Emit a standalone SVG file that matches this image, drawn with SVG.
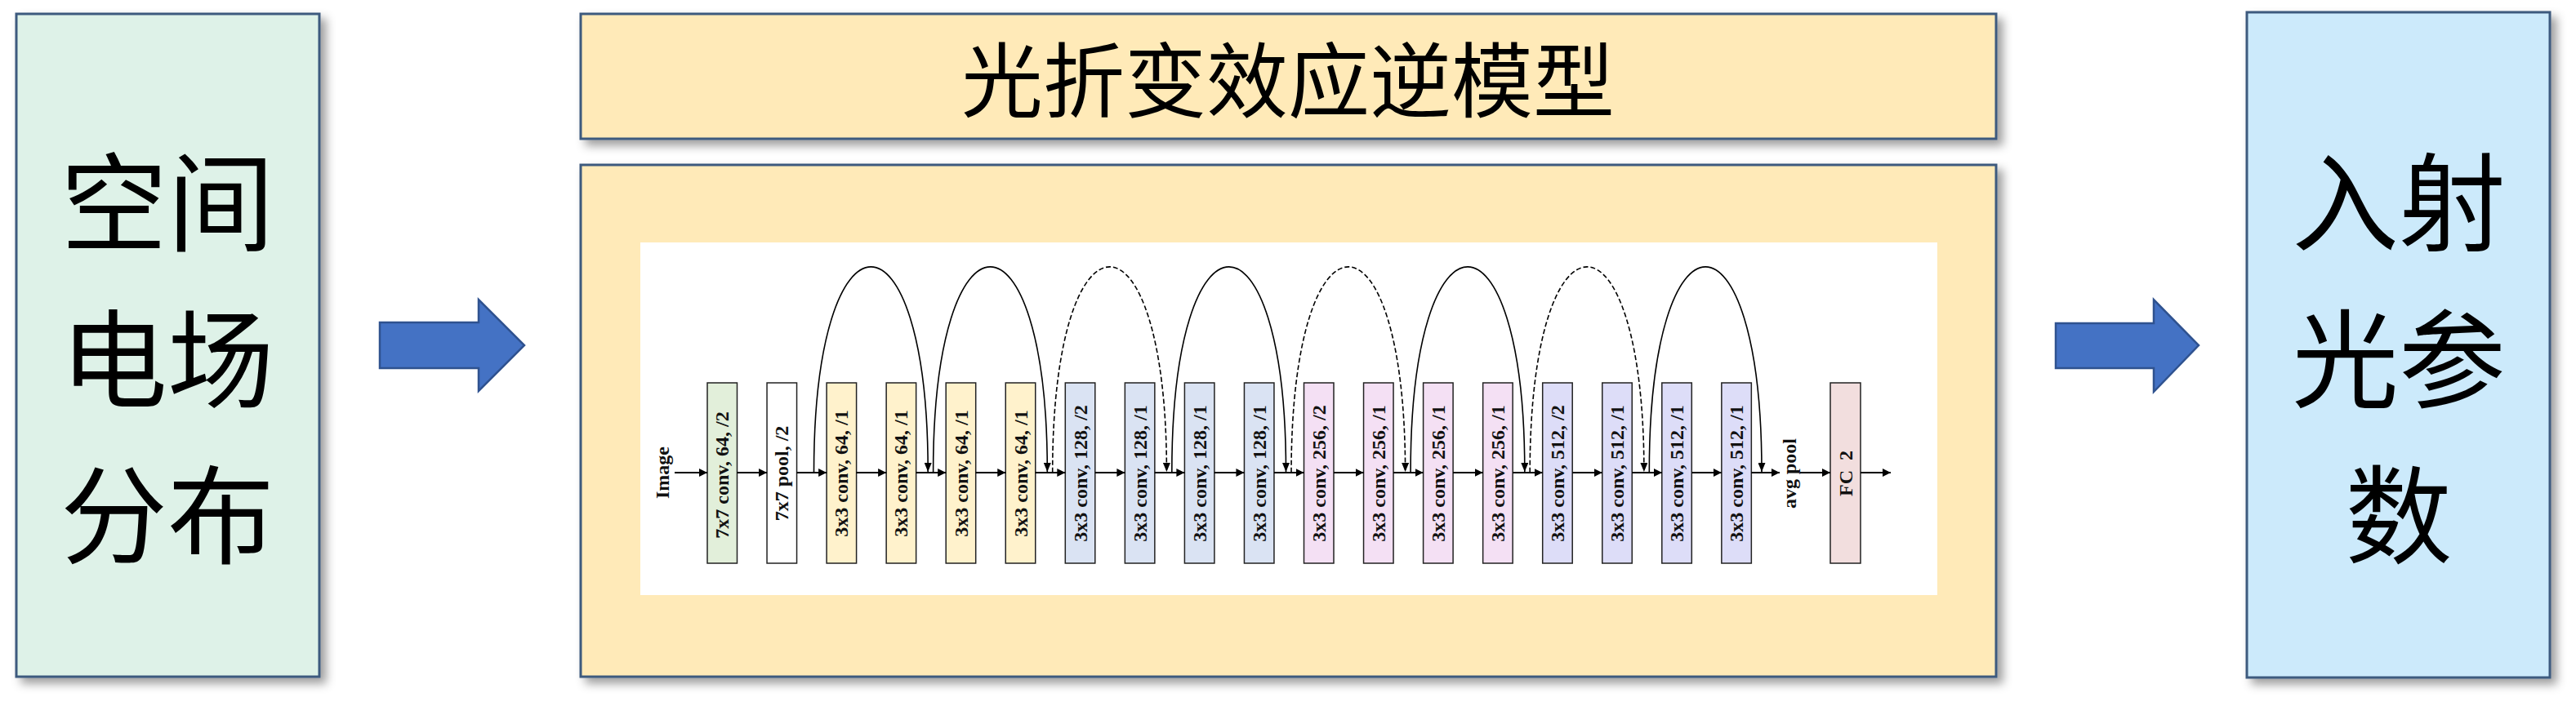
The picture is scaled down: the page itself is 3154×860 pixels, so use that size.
<svg xmlns="http://www.w3.org/2000/svg" width="3154" height="860" viewBox="0 0 3154 860">
<style>
.panel{stroke:#3D5A7E;stroke-width:3}
.cjk{font-family:"Noto Sans CJK SC","Noto Sans",sans-serif;fill:#000;text-anchor:middle;dominant-baseline:central}
.big{font-size:131px}
.title{font-size:100px}
.blk{fill:#4472C4;stroke:#2F528F;stroke-width:2.5}
.layer{stroke:#222;stroke-width:1.5}
.lbl{font-family:"Liberation Serif","Times New Roman",serif;font-weight:bold;font-size:24px;fill:#111;text-anchor:middle;dominant-baseline:central}
.flow{stroke:#000;stroke-width:1.8;fill:none;marker-end:url(#ah)}
.skip{stroke:#000;stroke-width:1.6;fill:none;marker-end:url(#ah2)}
.dash{stroke-dasharray:6 3}
.g{fill:#E2EFDA}.w{fill:#FFFFFF}.y{fill:#FFF2CC}.b{fill:#DAE3F3}.p{fill:#F4E0F4}.v{fill:#DDDDF8}.f{fill:#F2DEDE}
</style>
<defs>
<filter id="sh" x="-10%" y="-10%" width="130%" height="130%">
<feDropShadow dx="7" dy="7" stdDeviation="6" flood-color="#000" flood-opacity="0.38"/>
</filter>
<marker id="ah" markerUnits="userSpaceOnUse" markerWidth="11" markerHeight="10" refX="10" refY="5" orient="auto">
<path d="M0,0 L10,5 L0,10 z" fill="#000"/>
</marker>
<marker id="ah2" markerUnits="userSpaceOnUse" markerWidth="12" markerHeight="9" refX="11" refY="4.5" orient="auto">
<path d="M0,0 L11,4.5 L0,9 z" fill="#000"/>
</marker>
</defs>
<rect width="3154" height="860" fill="#fff"/>

<g id="input-node">
<rect class="panel" x="20" y="17" width="371" height="812" fill="#DEF2E8" filter="url(#sh)"/>
<text class="cjk big" x="205" y="240">空间</text>
<text class="cjk big" x="205" y="432">电场</text>
<text class="cjk big" x="205" y="623">分布</text>
</g>

<g id="arrow-in">
<path class="blk" d="M465,395 L586,395 L586,367 L642,423 L586,479 L586,451 L465,451 z"/>
</g>

<g id="title-node">
<rect class="panel" x="711" y="17" width="1733" height="153" fill="#FFEAB8" filter="url(#sh)"/>
<text class="cjk title" x="1577" y="92">光折变效应逆模型</text>
</g>

<g id="model-node">
<rect class="panel" x="711" y="202" width="1733" height="627" fill="#FFEAB8" filter="url(#sh)"/>
<rect x="784" y="297" width="1588" height="432" fill="#FFFFFF"/>
</g>

<g id="arrow-out">
<path class="blk" d="M2517,396 L2637,396 L2637,367 L2692,423 L2637,480 L2637,451 L2517,451 z"/>
</g>

<g id="output-node">
<rect class="panel" x="2751" y="15" width="371" height="815" fill="#CCEAFB" filter="url(#sh)"/>
<text class="cjk big" x="2937" y="240">入射</text>
<text class="cjk big" x="2937" y="432">光参</text>
<text class="cjk big" x="2937" y="623">数</text>
</g>

<g id="resnet-layers">
<text class="lbl" transform="translate(811,579) rotate(-90)">Image</text>
<g id="L0"><rect class="layer g" x="866" y="469" width="36.5" height="221"/><text class="lbl" transform="translate(884.3,582) rotate(-90)">7x7 conv, 64, /2</text></g>
<g id="L1"><rect class="layer w" x="939.05" y="469" width="36.5" height="221"/><text class="lbl" transform="translate(957.3,580) rotate(-90)">7x7 pool, /2</text></g>
<g id="L2"><rect class="layer y" x="1012.1" y="469" width="36.5" height="221"/><text class="lbl" transform="translate(1030.4,580) rotate(-90)">3x3 conv, 64, /1</text></g>
<g id="L3"><rect class="layer y" x="1085.15" y="469" width="36.5" height="221"/><text class="lbl" transform="translate(1103.4,580) rotate(-90)">3x3 conv, 64, /1</text></g>
<g id="L4"><rect class="layer y" x="1158.2" y="469" width="36.5" height="221"/><text class="lbl" transform="translate(1176.5,580) rotate(-90)">3x3 conv, 64, /1</text></g>
<g id="L5"><rect class="layer y" x="1231.25" y="469" width="36.5" height="221"/><text class="lbl" transform="translate(1249.5,580) rotate(-90)">3x3 conv, 64, /1</text></g>
<g id="L6"><rect class="layer b" x="1304.3" y="469" width="36.5" height="221"/><text class="lbl" transform="translate(1322.6,580) rotate(-90)">3x3 conv, 128, /2</text></g>
<g id="L7"><rect class="layer b" x="1377.35" y="469" width="36.5" height="221"/><text class="lbl" transform="translate(1395.6,580) rotate(-90)">3x3 conv, 128, /1</text></g>
<g id="L8"><rect class="layer b" x="1450.4" y="469" width="36.5" height="221"/><text class="lbl" transform="translate(1468.7,580) rotate(-90)">3x3 conv, 128, /1</text></g>
<g id="L9"><rect class="layer b" x="1523.45" y="469" width="36.5" height="221"/><text class="lbl" transform="translate(1541.7,580) rotate(-90)">3x3 conv, 128, /1</text></g>
<g id="L10"><rect class="layer p" x="1596.5" y="469" width="36.5" height="221"/><text class="lbl" transform="translate(1614.8,580) rotate(-90)">3x3 conv, 256, /2</text></g>
<g id="L11"><rect class="layer p" x="1669.55" y="469" width="36.5" height="221"/><text class="lbl" transform="translate(1687.8,580) rotate(-90)">3x3 conv, 256, /1</text></g>
<g id="L12"><rect class="layer p" x="1742.6" y="469" width="36.5" height="221"/><text class="lbl" transform="translate(1760.9,580) rotate(-90)">3x3 conv, 256, /1</text></g>
<g id="L13"><rect class="layer p" x="1815.65" y="469" width="36.5" height="221"/><text class="lbl" transform="translate(1833.9,580) rotate(-90)">3x3 conv, 256, /1</text></g>
<g id="L14"><rect class="layer v" x="1888.7" y="469" width="36.5" height="221"/><text class="lbl" transform="translate(1907,580) rotate(-90)">3x3 conv, 512, /2</text></g>
<g id="L15"><rect class="layer v" x="1961.75" y="469" width="36.5" height="221"/><text class="lbl" transform="translate(1980,580) rotate(-90)">3x3 conv, 512, /1</text></g>
<g id="L16"><rect class="layer v" x="2034.8" y="469" width="36.5" height="221"/><text class="lbl" transform="translate(2053.1,580) rotate(-90)">3x3 conv, 512, /1</text></g>
<g id="L17"><rect class="layer v" x="2107.85" y="469" width="36.5" height="221"/><text class="lbl" transform="translate(2126.1,580) rotate(-90)">3x3 conv, 512, /1</text></g>
<text class="lbl" transform="translate(2191,580) rotate(-90)">avg pool</text>
<g id="FC"><rect class="layer f" x="2241" y="469" width="37" height="221"/><text class="lbl" transform="translate(2259.5,580) rotate(-90)" xml:space="preserve">FC  2</text></g>
</g>

<g id="connectors">
<line class="flow" x1="826" y1="579" x2="866" y2="579"/>
<line class="flow" x1="902.5" y1="579" x2="939.05" y2="579"/>
<line class="flow" x1="975.55" y1="579" x2="1012.1" y2="579"/>
<line class="flow" x1="1048.6" y1="579" x2="1085.15" y2="579"/>
<line class="flow" x1="1121.65" y1="579" x2="1158.2" y2="579"/>
<line class="flow" x1="1194.7" y1="579" x2="1231.25" y2="579"/>
<line class="flow" x1="1267.75" y1="579" x2="1304.3" y2="579"/>
<line class="flow" x1="1340.8" y1="579" x2="1377.35" y2="579"/>
<line class="flow" x1="1413.85" y1="579" x2="1450.4" y2="579"/>
<line class="flow" x1="1486.9" y1="579" x2="1523.45" y2="579"/>
<line class="flow" x1="1559.95" y1="579" x2="1596.5" y2="579"/>
<line class="flow" x1="1633" y1="579" x2="1669.55" y2="579"/>
<line class="flow" x1="1706.05" y1="579" x2="1742.6" y2="579"/>
<line class="flow" x1="1779.1" y1="579" x2="1815.65" y2="579"/>
<line class="flow" x1="1852.15" y1="579" x2="1888.7" y2="579"/>
<line class="flow" x1="1925.2" y1="579" x2="1961.75" y2="579"/>
<line class="flow" x1="1998.25" y1="579" x2="2034.8" y2="579"/>
<line class="flow" x1="2071.3" y1="579" x2="2107.85" y2="579"/>
<line class="flow" x1="2144.35" y1="579" x2="2179" y2="579"/>
<line class="flow" x1="2204" y1="579" x2="2241" y2="579"/>
<line class="flow" x1="2278" y1="579" x2="2315" y2="579"/>

<path class="skip" d="M996.5,579 C996.5,243 1136.2,243 1136.2,578"/>
<path class="skip" d="M1142.6,579 C1142.6,243 1282.3,243 1282.3,578"/>
<path class="skip dash" d="M1288.7,579 C1288.7,243 1428.4,243 1428.4,578"/>
<path class="skip" d="M1434.8,579 C1434.8,243 1574.5,243 1574.5,578"/>
<path class="skip dash" d="M1581,579 C1581,243 1720.6,243 1720.6,578"/>
<path class="skip" d="M1727.1,579 C1727.1,243 1866.8,243 1866.8,578"/>
<path class="skip dash" d="M1873.2,579 C1873.2,243 2012.9,243 2012.9,578"/>
<path class="skip" d="M2019.3,579 C2019.3,243 2157,243 2157,578"/>
</g>
</svg>
